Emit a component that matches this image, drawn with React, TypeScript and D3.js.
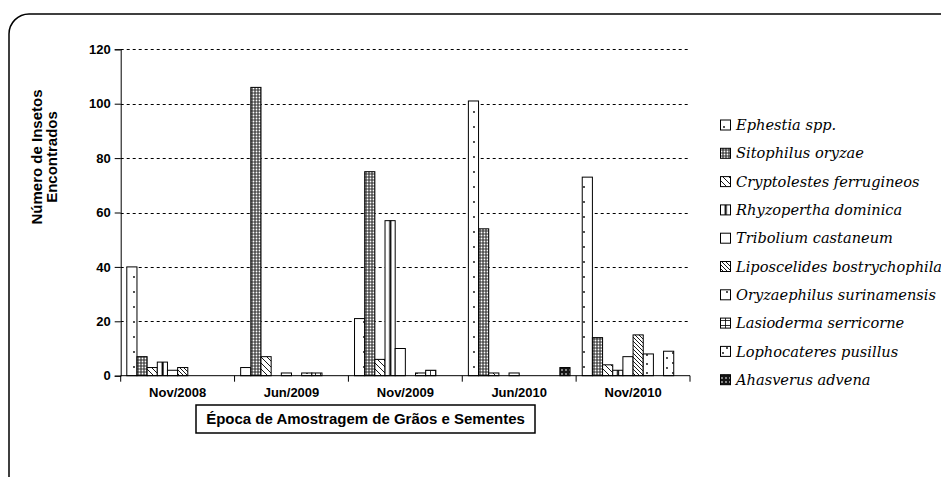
import { useEffect, useRef } from 'react'
import * as d3 from 'd3'

const epochs = ['Nov/2008', 'Jun/2009', 'Nov/2009', 'Jun/2010', 'Nov/2010']

const species = [
  'Ephestia spp.',
  'Sitophilus oryzae',
  'Cryptolestes ferrugineos',
  'Rhyzopertha dominica',
  'Tribolium castaneum',
  'Liposcelides bostrychophila',
  'Oryzaephilus surinamensis',
  'Lasioderma serricorne',
  'Lophocateres pusillus',
  'Ahasverus advena',
]

// counts per species, one value per epoch
const ephestia = [40, 3, 21, 101, 73]
const sitophilus = [7, 106, 75, 54, 14]
const cryptolestes = [3, 7, 6, 1, 4]
const rhyzopertha = [5, 0, 57, 0, 2]
const tribolium = [2, 1, 10, 1, 7]
const liposcelides = [3, 0, 0, 0, 15]
const oryzaephilus = [0, 1, 1, 0, 8]
const lasioderma = [0, 1, 2, 0, 0]
const lophocateres = [0, 0, 0, 0, 9]
const ahasverus = [0, 0, 0, 3, 0]

const seriesValues = [
  ephestia, sitophilus, cryptolestes, rhyzopertha, tribolium,
  liposcelides, oryzaephilus, lasioderma, lophocateres, ahasverus,
]

const yTicks = [0, 20, 40, 60, 80, 100, 120]

const W = 941
const H = 477
const SANS = "'Liberation Sans', Arial, sans-serif"
const SERIF = "'DejaVu Serif', 'Liberation Serif', serif"

export default function App() {
  const svgRef = useRef<SVGSVGElement>(null)

  useEffect(() => {
    if (!svgRef.current) return
    const svg = d3.select(svgRef.current)
    svg.selectAll('*').remove()

    const left = 120.7
    const right = 690
    const top = 49.3
    const bottom = 375.7

    const x0 = d3.scaleBand<string>().domain(epochs).range([left, right]).padding(0)
    const x1 = d3
      .scaleBand<number>()
      .domain(d3.range(species.length))
      .range([0, x0.bandwidth()])
      .paddingInner(0)
      .paddingOuter(0.6)
    const y = d3.scaleLinear().domain([0, 120]).range([bottom, top])

    // patterns
    const defs = svg.append('defs')
    const pat = (id: string, w: number, h: number, bg = '#fff') => {
      const p = defs
        .append('pattern')
        .attr('id', id)
        .attr('patternUnits', 'userSpaceOnUse')
        .attr('width', w)
        .attr('height', h)
      p.append('rect').attr('width', w).attr('height', h).attr('fill', bg)
      return p
    }
    // 0 Ephestia: sparse dots
    pat('p0', 10, 15).append('circle').attr('cx', 4).attr('cy', 7).attr('r', 0.9).attr('fill', '#000')
    // 1 Sitophilus: grey stipple
    pat('p1', 3, 3, '#505050').append('circle').attr('cx', 1.5).attr('cy', 1.5).attr('r', 0.9).attr('fill', '#fff')
    // 2 Cryptolestes: sparse back diagonal
    pat('p2', 6, 6).append('path').attr('d', 'M-1,-1L7,7').attr('stroke', '#000').attr('stroke-width', 0.9)
    // 3 Rhyzopertha: vertical bar in the middle of each bar
    const p3 = defs
      .append('pattern')
      .attr('id', 'p3')
      .attr('patternUnits', 'objectBoundingBox')
      .attr('patternContentUnits', 'objectBoundingBox')
      .attr('width', 1)
      .attr('height', 1)
    p3.append('rect').attr('width', 1).attr('height', 1).attr('fill', '#fff')
    p3.append('rect').attr('x', 0.42).attr('width', 0.2).attr('height', 1).attr('fill', '#000')
    // 4 Tribolium: plain
    pat('p4', 10, 10)
    // 5 Liposcelides: dense back diagonal
    pat('p5', 4, 4).append('path').attr('d', 'M-1,-1L5,5').attr('stroke', '#000').attr('stroke-width', 0.9)
    // 6 Oryzaephilus: dots
    pat('p6', 10, 9).append('circle').attr('cx', 7).attr('cy', 4).attr('r', 0.9).attr('fill', '#000')
    // 7 Lasioderma: grid
    pat('p7', 5, 5).append('path').attr('d', 'M0,0.5H5M0.5,0V5').attr('stroke', '#000').attr('stroke-width', 0.8)
    // 8 Lophocateres: scattered dots
    const p8 = pat('p8', 10, 10)
    p8.append('circle').attr('cx', 3).attr('cy', 3).attr('r', 0.9).attr('fill', '#000')
    p8.append('circle').attr('cx', 7).attr('cy', 8).attr('r', 0.9).attr('fill', '#000')
    // 9 Ahasverus: dark with light specks
    pat('p9', 4, 4, '#151515').append('circle').attr('cx', 2).attr('cy', 2).attr('r', 0.9).attr('fill', '#bbb')

    // outer frame with rounded top-left corner
    svg
      .append('path')
      .attr('d', 'M9,490V34A20,20 0 0 1 29,14H960')
      .attr('fill', 'none')
      .attr('stroke', '#000')
      .attr('stroke-width', 1.5)

    // gridlines
    svg
      .append('g')
      .selectAll('line')
      .data(yTicks.filter((t) => t > 0))
      .enter()
      .append('line')
      .attr('x1', left)
      .attr('x2', right)
      .attr('y1', (d) => Math.round(y(d)) + 0.5)
      .attr('y2', (d) => Math.round(y(d)) + 0.5)
      .attr('stroke', '#000')
      .attr('stroke-dasharray', '3,3')

    // bars
    const g = svg.append('g')
    epochs.forEach((ep, ci) => {
      seriesValues.forEach((vals, si) => {
        const v = vals[ci]
        if (!v) return
        g.append('rect')
          .attr('x', (x0(ep) || 0) + (x1(si) || 0))
          .attr('y', y(v))
          .attr('width', x1.bandwidth())
          .attr('height', y(0) - y(v))
          .attr('fill', `url(#p${si})`)
          .attr('stroke', '#000')
          .attr('stroke-width', 1)
      })
    })

    // y axis
    const yAxis = d3
      .axisLeft(y)
      .tickValues(yTicks)
      .tickSize(6)
      .tickPadding(4)
    const ya = svg.append('g').attr('transform', `translate(${left},0)`).call(yAxis)
    ya.attr('font-family', null).attr('font-size', null)
    ya.select('.domain').attr('stroke', '#000')
    ya.selectAll('text')
      .style('font-family', SANS)
      .style('font-weight', 'bold')
      .style('font-size', '13px')
      .attr('fill', '#000')

    // x axis
    const xa = svg.append('g').attr('transform', `translate(0,${bottom})`)
    xa.append('line').attr('x1', left).attr('x2', right).attr('stroke', '#000')
    xa.selectAll('line.tk')
      .data(d3.range(epochs.length + 1))
      .enter()
      .append('line')
      .attr('class', 'tk')
      .attr('x1', (i) => left + i * x0.step())
      .attr('x2', (i) => left + i * x0.step())
      .attr('y1', 0)
      .attr('y2', 6)
      .attr('stroke', '#000')
    xa.selectAll('text')
      .data(epochs)
      .enter()
      .append('text')
      .attr('x', (d) => (x0(d) || 0) + x0.bandwidth() / 2)
      .attr('y', 21)
      .attr('text-anchor', 'middle')
      .style('font-family', SANS)
      .style('font-weight', 'bold')
      .style('font-size', '13px')
      .text((d) => d)

    // y title
    const yt = svg
      .append('text')
      .attr('transform', 'translate(42,157) rotate(-90)')
      .attr('text-anchor', 'middle')
      .style('font-family', SANS)
      .style('font-weight', 'bold')
      .style('font-size', '15px')
    yt.append('tspan').attr('x', 0).attr('y', 0).text('Número de Insetos')
    yt.append('tspan').attr('x', 0).attr('y', 15).text('Encontrados')

    // x title in box
    svg
      .append('rect')
      .attr('x', 196)
      .attr('y', 405)
      .attr('width', 339)
      .attr('height', 28)
      .attr('fill', '#fff')
      .attr('stroke', '#000')
      .attr('stroke-width', 1.5)
    svg
      .append('text')
      .attr('x', 365.5)
      .attr('y', 419)
      .attr('dy', '0.35em')
      .attr('text-anchor', 'middle')
      .style('font-family', SANS)
      .style('font-weight', 'bold')
      .style('font-size', '15px')
      .text('Época de Amostragem de Grãos e Sementes')

    // legend
    const legend = svg.append('g')
    species.forEach((name, i) => {
      const cy = 125 + i * 28.3
      legend
        .append('rect')
        .attr('x', 720.5)
        .attr('y', cy - 5)
        .attr('width', 10)
        .attr('height', 10)
        .attr('fill', `url(#p${i})`)
        .attr('stroke', '#000')
      legend
        .append('text')
        .attr('x', 736)
        .attr('y', cy)
        .attr('dy', '0.35em')
        .style('font-family', SERIF)
        .style('font-style', 'italic')
        .style('font-size', '14.6px')
        .text(name)
    })
  }, [])

  return (
    <div style={{ position: 'absolute', left: 0, top: 0, width: W, height: H, overflow: 'hidden', background: '#fff' }}>
      <svg ref={svgRef} width={W} height={H} style={{ display: 'block' }} />
    </div>
  )
}
